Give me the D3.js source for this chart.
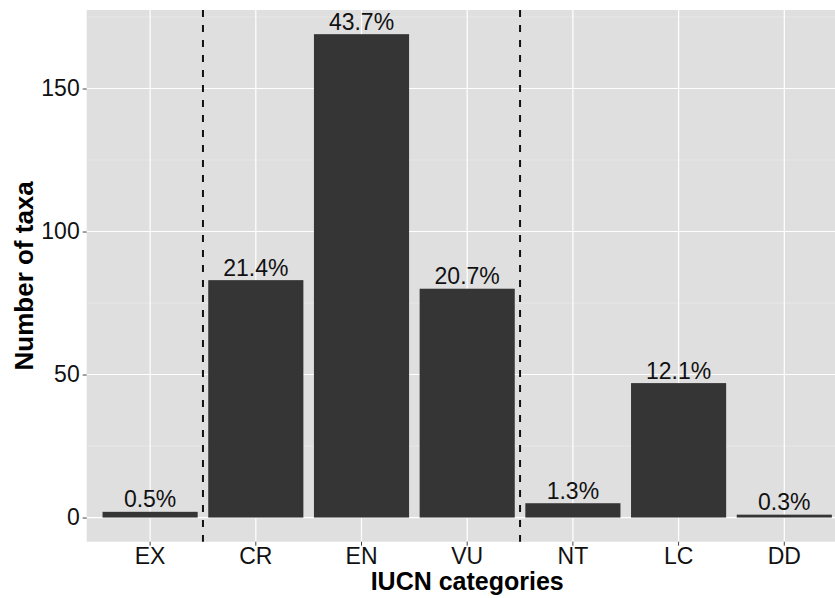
<!DOCTYPE html>
<html>
<head>
<meta charset="utf-8">
<script src="https://cdn.jsdelivr.net/npm/d3@7"></script>
<style>
  body { margin: 0; background: #fff; }
  text { font-family: "Liberation Sans", Arial, sans-serif; }
</style>
</head>
<body>
<div id="chart"></div>
<script>
// IUCN categories and counts
var categories = ["EX", "CR", "EN", "VU", "NT", "LC", "DD"];
var counts = [2, 83, 169, 80, 5, 47, 1];
var pctLabels = ["0.5%", "21.4%", "43.7%", "20.7%", "1.3%", "12.1%", "0.3%"];
var yTicks = [0, 50, 100, 150];
var yMinor = [25, 75, 125, 175];
// dashed separators sit between these category pairs
var separators = [["EX", "CR"], ["VU", "NT"]];

var width = 835, height = 598;
var panel = {left: 86.7, right: 847.7, top: 10, bottom: 541.7};

var data = categories.map(function(c, i) {
    return {cat: c, n: counts[i], label: pctLabels[i]};
});

var svg = d3.select("#chart").append("svg")
    .attr("width", width)
    .attr("height", height);

var x = d3.scaleBand()
    .domain(categories)
    .range([panel.left, panel.right])
    .paddingInner(0.1)
    .paddingOuter(0.15);

// ggplot-style 5% expansion around [0, max]
var ymax = d3.max(counts);
var y = d3.scaleLinear()
    .domain([-ymax * 0.05, ymax * 1.05])
    .range([panel.bottom, panel.top]);

function center(c) { return x(c) + x.bandwidth() / 2; }

// panel background
svg.append("rect")
    .attr("x", panel.left)
    .attr("y", panel.top)
    .attr("width", panel.right - panel.left)
    .attr("height", panel.bottom - panel.top)
    .attr("fill", "#dfdfdf");

// minor gridlines
svg.selectAll(".minor").data(yMinor).enter().append("line")
    .attr("class", "minor")
    .attr("x1", panel.left).attr("x2", panel.right)
    .attr("y1", function(d) { return y(d); })
    .attr("y2", function(d) { return y(d); })
    .attr("stroke", "#eeeeee")
    .attr("stroke-width", 0.6);

// major gridlines
svg.selectAll(".hmajor").data(yTicks).enter().append("line")
    .attr("class", "hmajor")
    .attr("x1", panel.left).attr("x2", panel.right)
    .attr("y1", function(d) { return y(d); })
    .attr("y2", function(d) { return y(d); })
    .attr("stroke", "#ffffff")
    .attr("stroke-width", 1.2);

svg.selectAll(".vmajor").data(categories).enter().append("line")
    .attr("class", "vmajor")
    .attr("y1", panel.top).attr("y2", panel.bottom)
    .attr("x1", center).attr("x2", center)
    .attr("stroke", "#ffffff")
    .attr("stroke-width", 1.2);

// bars
svg.selectAll(".bar").data(data).enter().append("rect")
    .attr("class", "bar")
    .attr("x", function(d) { return x(d.cat); })
    .attr("width", x.bandwidth())
    .attr("y", function(d) { return y(d.n); })
    .attr("height", function(d) { return y(0) - y(d.n); })
    .attr("fill", "#353535");

// percent labels
svg.selectAll(".pct").data(data).enter().append("text")
    .attr("class", "pct")
    .attr("x", function(d) { return center(d.cat); })
    .attr("y", function(d) { return y(d.n) - 4.5; })
    .attr("text-anchor", "middle")
    .attr("font-size", "23px")
    .attr("fill", "#111")
    .text(function(d) { return d.label; });

// dashed separators
svg.selectAll(".sep").data(separators).enter().append("line")
    .attr("class", "sep")
    .attr("x1", function(d) { return (center(d[0]) + center(d[1])) / 2; })
    .attr("x2", function(d) { return (center(d[0]) + center(d[1])) / 2; })
    .attr("y1", panel.top).attr("y2", panel.bottom)
    .attr("stroke", "#111")
    .attr("stroke-width", 2)
    .attr("stroke-dasharray", "7,8");

// y axis
var yAxis = svg.append("g")
    .attr("transform", "translate(" + panel.left + ",0)")
    .call(d3.axisLeft(y).tickValues(yTicks).tickSize(4).tickPadding(3));
yAxis.select(".domain").remove();
yAxis.selectAll(".tick line").attr("stroke", "#444");
yAxis.selectAll(".tick text")
    .attr("font-size", "23px")
    .attr("fill", "#111")
    .style("font-family", "'Liberation Sans', Arial, sans-serif");

// x axis
var xAxis = svg.append("g")
    .attr("transform", "translate(0," + panel.bottom + ")")
    .call(d3.axisBottom(x).tickSize(4).tickPadding(2));
xAxis.select(".domain").remove();
xAxis.selectAll(".tick line").attr("stroke", "#444");
xAxis.selectAll(".tick text")
    .attr("font-size", "23px")
    .attr("fill", "#111")
    .style("font-family", "'Liberation Sans', Arial, sans-serif");

// axis titles
svg.append("text")
    .attr("x", (panel.left + panel.right) / 2)
    .attr("y", 590)
    .attr("text-anchor", "middle")
    .attr("font-size", "25px")
    .attr("font-weight", "bold")
    .attr("fill", "#000")
    .text("IUCN categories");

svg.append("text")
    .attr("transform", "translate(33," + ((panel.top + panel.bottom) / 2) + ") rotate(-90)")
    .attr("text-anchor", "middle")
    .attr("font-size", "26px")
    .attr("font-weight", "bold")
    .attr("fill", "#000")
    .text("Number of taxa");
</script>
</body>
</html>
